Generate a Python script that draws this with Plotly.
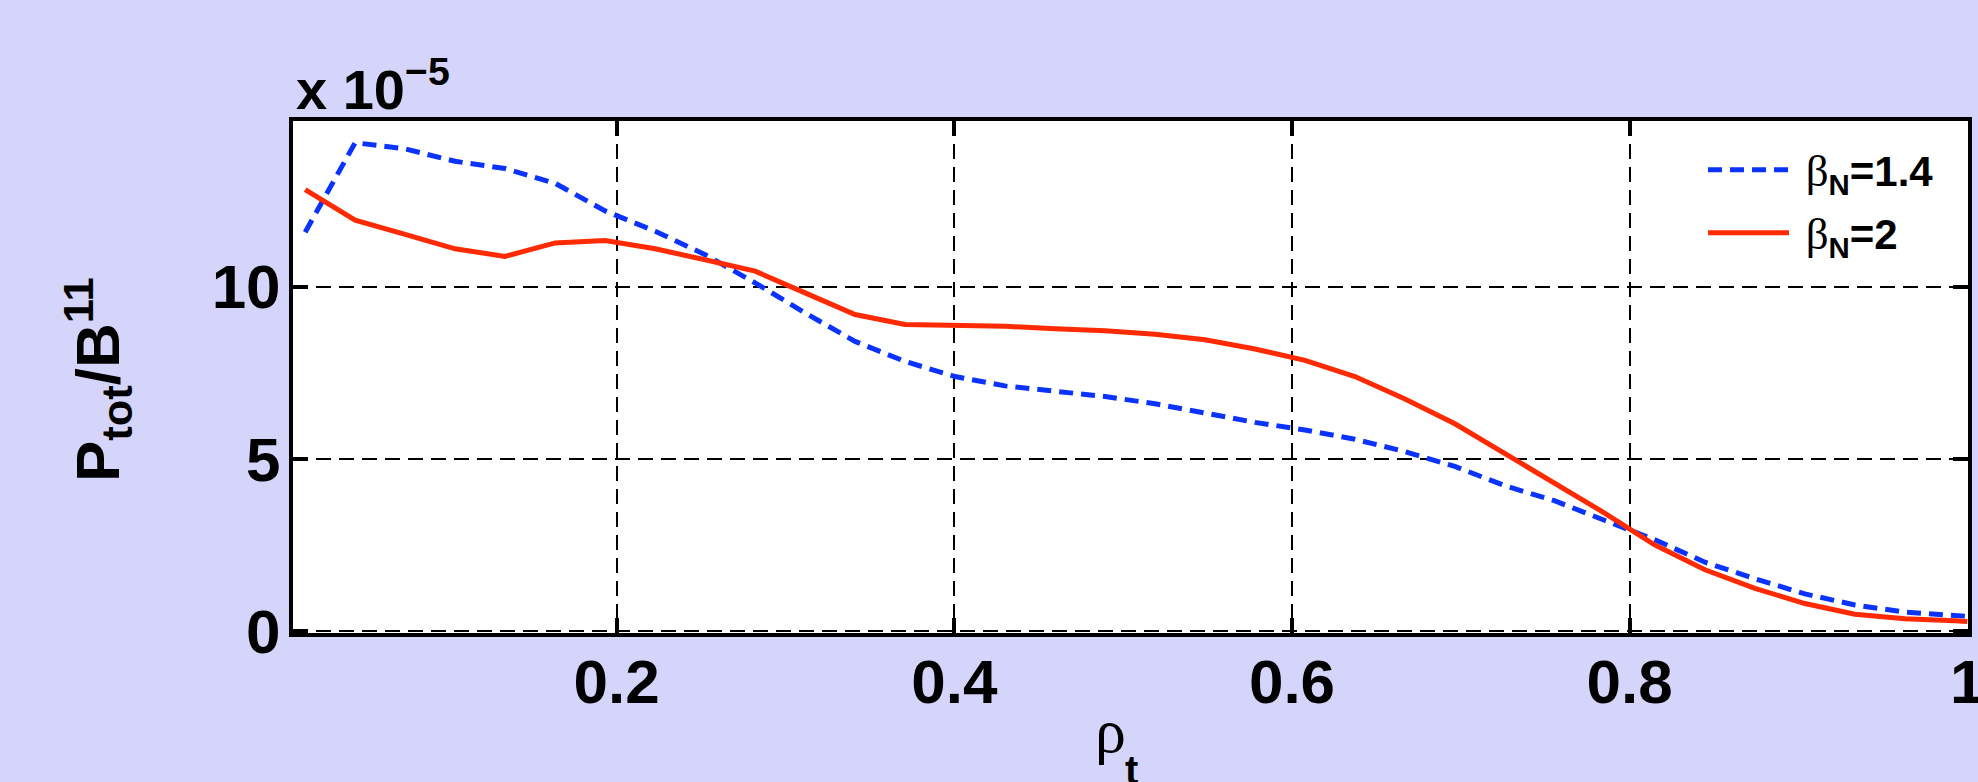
import plotly.graph_objects as go

# rho_t grid (x values)
rho = [0.0155, 0.0451, 0.0747, 0.1043, 0.1339, 0.1636, 0.1932, 0.2228, 0.2524, 0.2820,
       0.3116, 0.3412, 0.3708, 0.4004, 0.4300, 0.4597, 0.4893, 0.5189, 0.5485, 0.5781,
       0.6077, 0.6373, 0.6669, 0.6965, 0.7261, 0.7558, 0.7854, 0.8150, 0.8446, 0.8742,
       0.9038, 0.9334, 0.9630, 0.9926, 1.0]

# P_tot / B^11 in units of 1e-5
p_beta14 = [11.58, 14.18, 14.00, 13.64, 13.43, 13.00, 12.20, 11.61, 10.93, 10.11,
            9.24, 8.41, 7.83, 7.39, 7.12, 6.95, 6.81, 6.60, 6.33, 6.06,
            5.84, 5.57, 5.21, 4.78, 4.22, 3.78, 3.21, 2.65, 2.00, 1.52,
            1.08, 0.76, 0.55, 0.45, 0.43]
p_beta2 = [12.82, 11.93, 11.52, 11.10, 10.88, 11.27, 11.34, 11.10, 10.78, 10.45,
           9.82, 9.19, 8.90, 8.87, 8.85, 8.78, 8.72, 8.62, 8.46, 8.19,
           7.86, 7.39, 6.74, 6.02, 5.16, 4.29, 3.42, 2.50, 1.78, 1.24,
           0.80, 0.49, 0.36, 0.30, 0.28]

x_ticks = [0.2, 0.4, 0.6, 0.8, 1.0]
x_ticktext = ["0.2", "0.4", "0.6", "0.8", "1"]
y_ticks = [0, 5, 10]
y_ticktext = ["0", "5", "10"]

SANS = "Liberation Sans, Arial, Helvetica, sans-serif"
SERIF = "Liberation Serif, Times New Roman, serif"
BG = "#d5d5fb"
BLUE = "#0a33ff"
RED = "#ff2a00"
BETA = '<span style="font-family:Liberation Serif;font-weight:normal;font-size:45px">β</span>'

fig = go.Figure()
fig.add_trace(go.Scatter(
    x=rho, y=p_beta14, mode="lines", legend="legend",
    name="\u00a0" + BETA + "<sub>N</sub>=1.4",
    line=dict(color=BLUE, width=5, dash="14px,8px")))
fig.add_trace(go.Scatter(
    x=rho, y=p_beta2, mode="lines", legend="legend2",
    name="\u00a0" + BETA + "<sub>N</sub>=2",
    line=dict(color=RED, width=5)))

axis_common = dict(
    showgrid=True, gridcolor="black", gridwidth=2, griddash="15px,8px",
    showline=True, linecolor="black", linewidth=4, mirror="ticks",
    ticks="inside", ticklen=15, tickwidth=4, tickcolor="black",
    zeroline=False, ticklabeloverflow="allow", automargin=False,
    tickfont=dict(family=SANS, size=62, color="black", weight="bold"),
)

L, R, T, B = 293, 10, 121, 149
W, H = 1978, 782
pw = W - L - R
ph = H - T - B

def px_x(p):
    return (p - L) / pw

def px_y(p):
    return (H - B - p) / ph

fig.update_layout(
    width=W, height=H,
    paper_bgcolor=BG, plot_bgcolor="white",
    margin=dict(l=L, r=R, t=T, b=B, autoexpand=False),
    font=dict(family=SANS, size=42, color="black", weight="bold"),
    xaxis=dict(range=[0.0083, 1.0004], tickvals=x_ticks, ticktext=x_ticktext,
               ticklabelstandoff=-8, **axis_common),
    yaxis=dict(range=[-0.055, 14.81], tickvals=y_ticks, ticktext=y_ticktext,
               ticklabelstandoff=-4, **axis_common),
    legend=dict(x=px_x(1703), y=px_y(170), xanchor="left", yanchor="middle",
                bgcolor="rgba(0,0,0,0)", borderwidth=0, itemwidth=81,
                font=dict(family=SANS, size=42, color="black", weight="bold")),
    legend2=dict(x=px_x(1703), y=px_y(233), xanchor="left", yanchor="middle",
                 bgcolor="rgba(0,0,0,0)", borderwidth=0, itemwidth=81,
                 font=dict(family=SANS, size=42, color="black", weight="bold")),
    showlegend=True,
)

# y-axis title
fig.add_annotation(
    xref="paper", yref="paper", x=px_x(97), y=px_y(380),
    xanchor="center", yanchor="middle", textangle=-90, showarrow=False,
    text="P<sub>tot</sub>/B<sup>11</sup>",
    font=dict(family=SANS, size=62, color="black", weight="bold"))

# x-axis title: rho with a low subscript t (partly past the bottom edge, as in the original)
fig.add_annotation(
    xref="paper", yref="paper", x=px_x(1110), y=px_y(695),
    xanchor="center", yanchor="top", showarrow=False,
    text="ρ",
    font=dict(family=SERIF, size=62, color="black", weight="normal"))
fig.add_annotation(
    xref="paper", yref="paper", x=px_x(1131), y=px_y(746),
    xanchor="center", yanchor="top", showarrow=False,
    text="t",
    font=dict(family=SANS, size=40, color="black", weight="bold"))

# exponent label
fig.add_annotation(
    xref="paper", yref="paper", x=px_x(294), y=px_y(107),
    xanchor="left", yanchor="bottom", yshift=-16, showarrow=False,
    text="x 10<sup>−5</sup>",
    font=dict(family=SANS, size=56, color="black", weight="bold"))

fig.write_html("out.html", config={"displayModeBar": False},
               post_script="document.body.style.margin='0';document.body.style.background='" + BG + "';")
